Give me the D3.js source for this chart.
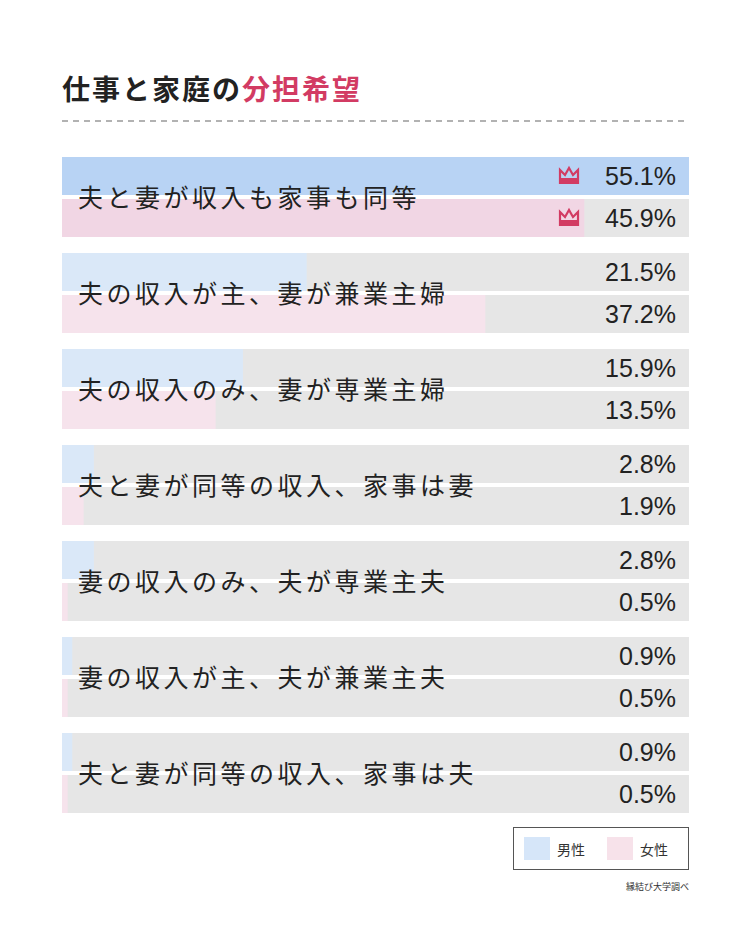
<!DOCTYPE html><html><head><meta charset="utf-8"><script src="https://cdn.jsdelivr.net/npm/d3@7"></script>
<style>body{margin:0;background:#fff}</style></head><body><script>
const categories=["夫と妻が収入も家事も同等","夫の収入が主、妻が兼業主婦","夫の収入のみ、妻が専業主婦","夫と妻が同等の収入、家事は妻","妻の収入のみ、夫が専業主夫","妻の収入が主、夫が兼業主夫","夫と妻が同等の収入、家事は夫"];
const male=[55.1,21.5,15.9,2.8,2.8,0.9,0.9];
const female=[45.9,37.2,13.5,1.9,0.5,0.5,0.5];
const F="'Noto Sans CJK JP','Noto Sans',sans-serif";
const svg=d3.select("body").append("svg").attr("width",750).attr("height",929);
svg.append("rect").attr("width",750).attr("height",929).attr("fill","#fff");
const t=svg.append("text").attr("x",62).attr("y",100).attr("font-family",F).attr("font-weight",700).attr("font-size",28).attr("letter-spacing",2);
t.append("tspan").attr("fill","#222").text("仕事と家庭の");
t.append("tspan").attr("fill","#d23b63").text("分担希望");
svg.append("line").attr("x1",62).attr("x2",689).attr("y1",121).attr("y2",121).attr("stroke","#999").attr("stroke-width",1.5).attr("stroke-dasharray","6,5");
const x=d3.scaleLinear().domain([0,55.1]).range([62,689]);
const y=d3.scaleBand().domain(categories).range([157,829]).paddingInner(0);
const bh=38;
function crown(g,cx,cy){g.append("path").attr("d",`M${cx-9},${cy+7}L${cx-9},${cy-6}L${cx-4},${cy-1}L${cx},${cy-8}L${cx+4},${cy-1}L${cx+9},${cy-6}L${cx+9},${cy+7}Z`).attr("fill","none").attr("stroke","#d23b63").attr("stroke-width",2.2);
 g.append("rect").attr("x",cx-9).attr("y",cy+2).attr("width",18).attr("height",5).attr("fill","#d23b63");}
categories.forEach((c,i)=>{
 const y0=y(c);
 [[male[i],y0,i==0?"#b8d3f4":"#dae8f8"],[female[i],y0+42,i==0?"#f1d6e4":"#f6e3ec"]].forEach(([v,yy,col])=>{
  svg.append("rect").attr("x",62).attr("y",yy).attr("width",627).attr("height",bh).attr("fill","#e6e6e6");
  svg.append("rect").attr("x",62).attr("y",yy).attr("width",x(v)-62).attr("height",bh).attr("fill",col);
  svg.append("text").attr("x",676).attr("y",yy+bh/2+9).attr("text-anchor","end").attr("font-family","'Liberation Sans',Arial,sans-serif").attr("font-size",25).attr("fill","#222").text(v.toFixed(1)+"%");
  if(i==0) crown(svg,569,yy+bh/2);
 });
 svg.append("text").attr("x",78).attr("y",y0+bh+2+10).attr("font-family",F).attr("font-size",25).attr("letter-spacing",3.5).attr("fill","#222").text(c);
});
svg.append("rect").attr("x",513.5).attr("y",827.5).attr("width",175).attr("height",42).attr("fill","#fff").attr("stroke","#555");
[["男性","#d6e6f9",524],["女性","#f7e2ea",607]].forEach(([l,c,lx])=>{
 svg.append("rect").attr("x",lx).attr("y",837).attr("width",26).attr("height",23).attr("fill",c);
 svg.append("text").attr("x",lx+33).attr("y",855).attr("font-family",F).attr("font-size",14).attr("fill","#333").text(l);
});
svg.append("text").attr("x",689).attr("y",890).attr("text-anchor","end").attr("font-family",F).attr("font-size",9).attr("fill","#333").text("縁結び大学調べ");
</script></body></html>
